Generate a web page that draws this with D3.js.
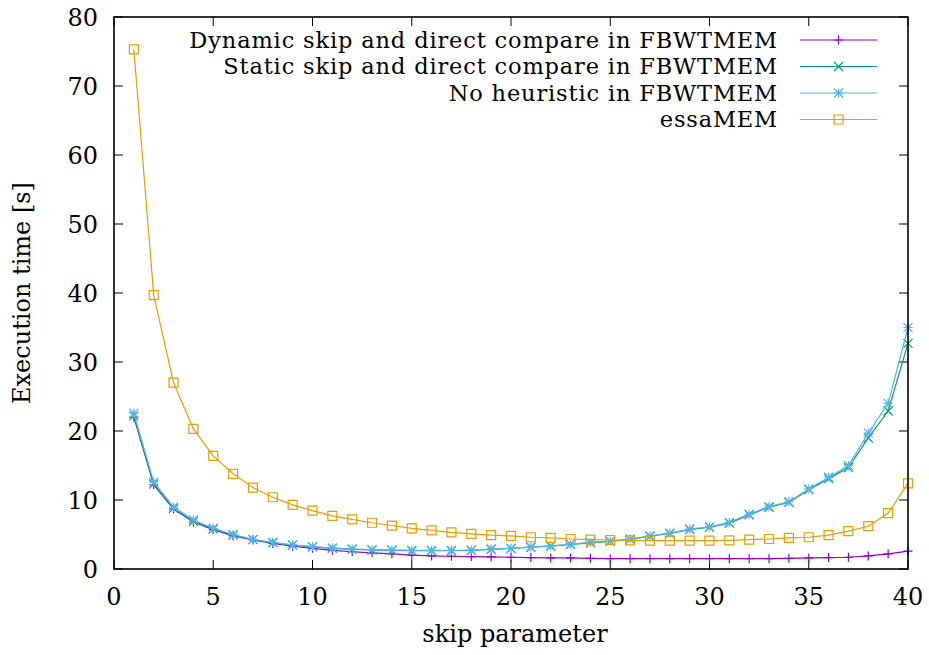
<!DOCTYPE html>
<html><head><meta charset="utf-8">
<script src="https://cdn.jsdelivr.net/npm/d3@7"></script>
<style>body{margin:0;background:#fff}svg{display:block}text{font-family:"DejaVu Serif",serif;fill:#000}</style>
</head><body><svg id="c" width="929" height="655"></svg>
<script>
const xs = d3.range(1, 41);
const dynamicSkip = [22.0,12.2,8.7,6.8,5.7,4.8,4.2,3.7,3.3,3.0,2.7,2.5,2.35,2.2,2.0,1.9,1.85,1.8,1.75,1.7,1.65,1.6,1.6,1.55,1.5,1.5,1.5,1.5,1.5,1.5,1.5,1.5,1.5,1.55,1.6,1.65,1.7,1.9,2.2,2.6];
const staticSkip = [22.2,12.3,8.8,6.9,5.8,4.9,4.25,3.8,3.45,3.2,3.0,2.85,2.75,2.7,2.65,2.65,2.65,2.7,2.85,3.0,3.15,3.3,3.55,3.8,4.0,4.3,4.75,5.15,5.7,6.05,6.65,7.85,8.95,9.65,11.5,13.1,14.7,19.0,22.9,32.7];
const noHeuristic = [22.6,12.6,9.0,7.1,5.9,5.0,4.3,3.85,3.5,3.25,3.05,2.9,2.8,2.75,2.7,2.7,2.7,2.75,2.9,3.0,3.2,3.35,3.6,3.85,4.05,4.35,4.8,5.2,5.8,6.1,6.75,7.95,9.05,9.75,11.6,13.3,15.0,19.7,24.0,35.0];
const essaMEM = [75.3,39.7,27.0,20.3,16.4,13.8,11.8,10.4,9.3,8.45,7.7,7.2,6.7,6.3,5.9,5.6,5.3,5.1,4.9,4.8,4.6,4.5,4.35,4.25,4.2,4.15,4.1,4.1,4.1,4.1,4.15,4.25,4.35,4.5,4.6,4.9,5.5,6.2,8.1,12.4];
const seriesNames = ["Dynamic skip and direct compare in FBWTMEM","Static skip and direct compare in FBWTMEM","No heuristic in FBWTMEM","essaMEM"];
const seriesColors = ["#9400d3","#009e73","#56b4e9","#e69f00"];
const seriesMarkers = ["plus","cross","star","square"];
const xTicks = [0,5,10,15,20,25,30,35,40];
const yTicks = [0,10,20,30,40,50,60,70,80];
const xTitle = "skip parameter", yTitle = "Execution time [s]";

const svg = d3.select("#c");
const L=114, R=908, T=17, B=569;
const x = d3.scaleLinear().domain([0,40]).range([L,R]);
const y = d3.scaleLinear().domain([0,80]).range([B,T]);
const FS = 24, LFS = 22.5;

function marker(g, type, cx, cy, color){
  const s=4.5;
  const p = d3.path();
  if(type==="plus"||type==="star"){p.moveTo(cx-s,cy);p.lineTo(cx+s,cy);p.moveTo(cx,cy-s);p.lineTo(cx,cy+s);}
  if(type==="cross"||type==="star"){p.moveTo(cx-s,cy-s);p.lineTo(cx+s,cy+s);p.moveTo(cx-s,cy+s);p.lineTo(cx+s,cy-s);}
  if(type==="square"){p.rect(cx-s,cy-s,2*s,2*s);}
  g.append("path").attr("d",p.toString()).attr("fill","none").attr("stroke",color).attr("stroke-width",1.2);
}

// ticks (inward, mirrored)
const tk = svg.append("g").attr("stroke","#000").attr("stroke-width",1);
xTicks.forEach(t=>{
  tk.append("line").attr("x1",x(t)).attr("x2",x(t)).attr("y1",B).attr("y2",B-9);
  tk.append("line").attr("x1",x(t)).attr("x2",x(t)).attr("y1",T).attr("y2",T+9);
});
yTicks.forEach(t=>{
  tk.append("line").attr("x1",L).attr("x2",L+9).attr("y1",y(t)).attr("y2",y(t));
  tk.append("line").attr("x1",R).attr("x2",R-9).attr("y1",y(t)).attr("y2",y(t));
});
svg.append("g").selectAll("text").data(xTicks).join("text")
  .attr("x",d=>x(d)).attr("y",B+36).attr("text-anchor","middle").attr("font-size",FS).text(d=>d);
svg.append("g").selectAll("text").data(yTicks).join("text")
  .attr("x",L-16).attr("y",d=>y(d)+8.5).attr("text-anchor","end").attr("font-size",FS).text(d=>d);
svg.append("text").attr("x",(L+R)/2+4).attr("y",642).attr("text-anchor","middle").attr("font-size",FS).text(xTitle);
svg.append("text").attr("transform",`translate(29.5,${(T+B)/2}) rotate(-90)`).attr("text-anchor","middle").attr("font-size",FS).text(yTitle);

const all = [dynamicSkip, staticSkip, noHeuristic, essaMEM];
const line = d3.line().x((d,i)=>x(xs[i])).y(d=>y(d));
all.forEach((vals,k)=>{
  const g = svg.append("g");
  g.append("path").datum(vals).attr("d",line).attr("fill","none").attr("stroke",seriesColors[k]).attr("stroke-width",1.2);
  vals.forEach((v,i)=>marker(g,seriesMarkers[k],x(xs[i]),y(v),seriesColors[k]));
});

// legend
seriesNames.forEach((n,k)=>{
  const yy = 40 + k*26.5;
  svg.append("text").attr("x",778).attr("y",yy+7.5).attr("text-anchor","end").attr("font-size",LFS).attr("letter-spacing",0.85).text(n);
  svg.append("line").attr("x1",800).attr("x2",877).attr("y1",yy).attr("y2",yy).attr("stroke",seriesColors[k]).attr("stroke-width",1.2);
  marker(svg,seriesMarkers[k],838.5,yy,seriesColors[k]);
});

svg.append("rect").attr("x",L).attr("y",T).attr("width",R-L).attr("height",B-T).attr("fill","none").attr("stroke","#000").attr("stroke-width",1.6);
</script></body></html>
